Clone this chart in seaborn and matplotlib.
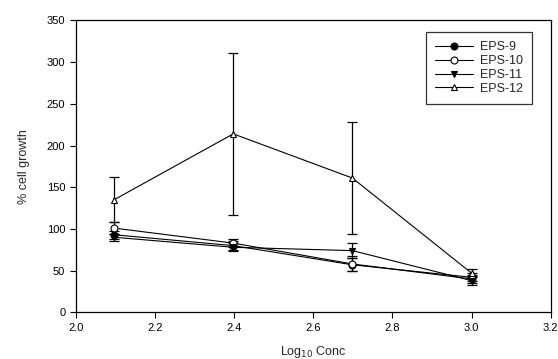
import matplotlib
matplotlib.use('Agg')
import matplotlib.pyplot as plt
import seaborn as sns
import numpy as np

# data
log_conc = [2.097, 2.398, 2.699, 3.0]
series_names = ['EPS-9', 'EPS-10', 'EPS-11', 'EPS-12']
eps9 = [93, 80, 57, 42]
eps9_err = [5, 5, 8, 5]
eps10 = [101, 83, 58, 40]
eps10_err = [7, 5, 9, 5]
eps11 = [90, 78, 74, 38]
eps11_err = [4, 5, 9, 5]
eps12 = [135, 214, 161, 47]
eps12_err = [27, 97, 67, 5]

sns.set_style('ticks')
plt.rcParams['font.family'] = ['Liberation Sans', 'DejaVu Sans']

fig = plt.figure(figsize=(5.58, 3.59), dpi=100)
ax = fig.add_axes([0.1357, 0.130, 0.8513, 0.813])

styles = [
    (eps9, eps9_err, 'o', 'black'),
    (eps10, eps10_err, 'o', 'white'),
    (eps11, eps11_err, 'v', 'black'),
    (eps12, eps12_err, '^', 'white'),
]

for name, (vals, err, mk, fc) in zip(series_names, styles):
    ax.errorbar(log_conc, vals, yerr=err, fmt='none', ecolor='black',
                elinewidth=0.9, capsize=3.5, capthick=0.9, zorder=2)
    sns.lineplot(x=log_conc, y=vals, ax=ax, color='black', lw=0.8,
                 marker=mk, markersize=5, markerfacecolor=fc,
                 markeredgecolor='black', markeredgewidth=0.8,
                 label=name, zorder=3)

ax.set_xlim(2.0, 3.2)
ax.set_ylim(0, 350)
ax.set_xticks(np.arange(2.0, 3.21, 0.2))
ax.set_yticks(range(0, 351, 50))
ax.set_xticklabels(['2.0', '2.2', '2.4', '2.6', '2.8', '3.0', '3.2'])
ax.tick_params(direction='out', length=4, width=0.8, labelsize=8, colors='black')
for sp in ax.spines.values():
    sp.set_linewidth(0.9)
    sp.set_color('black')

ax.set_xlabel('Log$_{10}$ Conc', fontsize=9, labelpad=8)
ax.set_ylabel('% cell growth', fontsize=9, labelpad=12)

leg = ax.legend(loc='upper right', bbox_to_anchor=(0.968, 0.972), fontsize=9,
                frameon=True, fancybox=False, handlelength=3.0,
                borderpad=0.7, labelspacing=0.15, handletextpad=0.6,
                borderaxespad=0.3)
leg.get_frame().set_edgecolor('black')
leg.get_frame().set_linewidth(0.9)

fig.savefig('out.png', dpi=100)
